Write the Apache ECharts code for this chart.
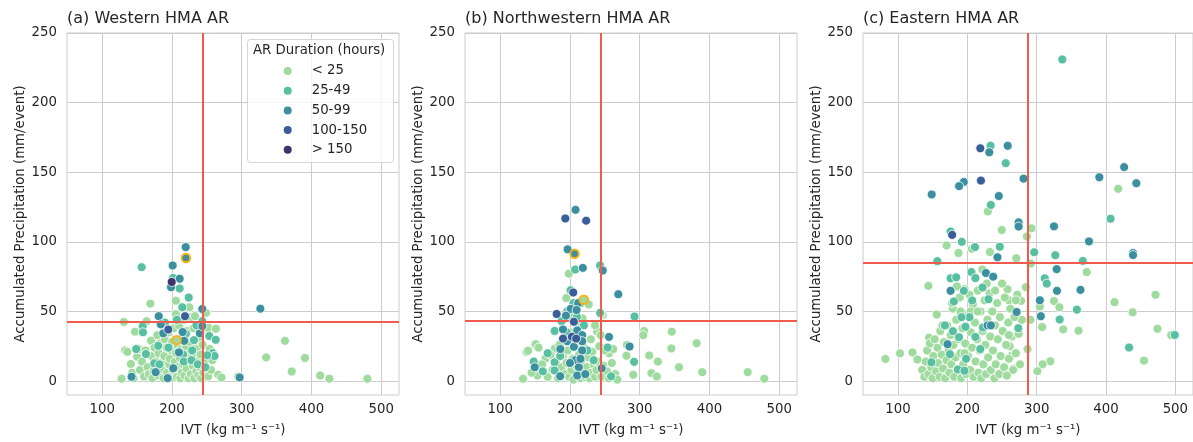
<!DOCTYPE html>
<html><head><meta charset="utf-8">
<script src="https://cdn.jsdelivr.net/npm/echarts@6/dist/echarts.min.js"></script>
<style>html,body{margin:0;padding:0;background:#fff;overflow:hidden;width:100%;height:100%}#c{position:fixed;left:0;top:0;width:100vw;height:100vh}</style>
</head><body><div id="c"></div>
<script>
// ---------- data ----------
const categories = ['< 25', '25-49', '50-99', '100-150', '> 150'];
const xTicks = [100, 200, 300, 400, 500];
const yTicks = [0, 50, 100, 150, 200, 250];
const panelTitles = ['(a) Western HMA AR', '(b) Northwestern HMA AR', '(c) Eastern HMA AR'];
const thresholdIVT = [243.5, 244, 287.8];
const thresholdPrecip = [42.5, 43, 84.7];

// (a) Western
const west_lt25 = [[127.8,1.7],[131,42.5],[133,22],[136,21],[141,12.3],[143,6],[145,2],[147,35.5],[150,17.5],[152,23],[154,8],[157,14],[160,3.3],[162,22],[163.7,43],[165,10],[167,5],[169,55.6],[170,29],[171,18],[172,2],[174,7.6],[175,24],[177,14],[179,33],[180,4],[181,20],[183,27],[185,9],[186.6,13.5],[188,2],[189,18],[190,30],[192,24],[193,6],[195,35],[196,12],[197,16],[198,2],[199,22],[200,28],[201,8],[203,38],[204,14],[205.7,57.7],[205.7,48],[206,20],[207,3],[208,26],[209,10],[210,40],[211,17],[212,2],[213,23],[214,6],[215,31],[216,12],[217,44],[218,4],[219,20],[220,25],[221,9],[222,36],[223,15],[224,2],[225,53],[226,28],[227,5],[228,46],[229,18],[230,11],[231,38],[232,2],[233,46.6],[234,24],[235,7],[236,14],[237.7,23],[238,4],[239,31],[240,10],[241,19],[242,2],[244,26],[245,6],[246,14],[247,38],[248.8,49],[250,3],[252,38.3],[252,3.5],[254,23],[256,8],[258,15],[263,37.6],[266.4,4.5],[271,2.5],[295,3.3],[335,17],[362,28.9],[371.7,6.9],[390.7,16.6],[412.5,4],[425.7,1.7],[480.2,1.7]];
const west_25_49 = [[156.5,81.8],[211,66.5],[201.6,74.1],[224,60],[214.8,53],[207,44],[243.5,43],[158,39.3],[158.4,35],[231.6,29.4],[253.5,32.4],[262.7,29.6],[180.3,25.3],[216,19],[229,22],[258.4,20.1],[261,18],[250.5,18.5],[162.7,19.4],[148.8,23],[174.6,12.8],[182,12],[217,14],[228,15],[237,12],[248,10],[195,24],[235,40],[190,42],[220,34]];
const west_50_99 = [[219.7,96.2],[201,83],[211,73.5],[198.6,67.4],[243.5,51.8],[181,46.6],[326.7,52],[184,40.7],[187.5,34.3],[215.3,35.2],[240,34.3],[243.5,39.5],[217.6,28.9],[210,20.6],[176.6,6.4],[201.9,9.2],[193.8,2.1],[142,3.1],[297,2.6]];
const west_100_150 = [[218.7,46.6],[194.7,37]];
const west_gt150 = [[199.6,71.2]];
const west_highlight = [[220,88.4,'50-99'],[206.7,29.4,'< 25']];

// (b) Northwestern
const nw_lt25 = [[198.4,77.1],[194.7,59.6],[227,55],[247,47.5],[238.9,35.6],[244,33],[306.4,36],[305,33],[346,35.5],[281.6,26],[281,18.2],[313.6,18.4],[326,14],[356.3,9.9],[381.6,27.2],[345.4,23.4],[389.6,6.4],[454.8,6.4],[478.6,1.7],[316.8,5.7],[324.5,3.3],[290.7,4.5],[266,1.5],[256,20],[149.5,26.5],[137.6,21],[140,21.8],[132.8,1.7],[153.3,4],[165,16.3],[178.4,23.4],[151,26.5],[145,6],[155,24],[160,12],[168,3],[172,19],[175,8],[180,14],[183,2],[185,26],[188,10],[190,18],[193,5],[195,13],[197,22],[199,3],[200,35],[202,8],[204,16],[205,1],[207,26],[209,11],[211,4],[213,19],[215,2],[216,14],[218,7],[220,24],[222,3],[224,10],[226,17],[228,2],[230,6],[232,21],[234,12],[236,3],[238,8],[240,14],[242,25],[245,3],[248,11],[250,22],[253,7],[256,2],[260,13],[262,23],[265,5],[268,1],[244,48],[236,40],[230,30],[214,40],[200,47],[204,30],[218,45]];
const nw_25_49 = [[207.5,80.1],[243.2,83],[200.9,65.3],[210,46],[188,43],[243.2,49],[292.6,46.4],[178,36],[195.6,34.9],[254,24.1],[292,13.8],[234,15],[148,14],[178,13.5],[161,7],[178,7.6],[259,3.4],[220,40],[203,28],[168,20],[215,56],[205,56],[196,50],[186,18],[225,22]];
const nw_50_99 = [[208,123],[196.6,94.6],[218.4,81.3],[247,79.4],[269.3,62.4],[211.7,56],[200.9,51.8],[209.5,51],[194.2,47],[190,37.1],[210.4,36.4],[217.5,33],[217.5,28.6],[196,28.6],[256,31.7],[285.5,24.8],[205.6,24.6],[217.5,22],[186.2,23],[207.5,15],[212.7,9.9],[245.5,9.2],[149.5,9.9],[210.4,4],[186,3.5],[222,5],[200,13],[215,16]];
const nw_100_150 = [[193.3,116.8],[223.2,115.2],[204.7,63.6],[180.9,48.2],[205.6,42.6],[190,30.5],[202.7,31.9],[208.9,30.5]];
const nw_gt150 = [];
const nw_highlight = [[206.6,91.5,'50-99'],[219.8,58.4,'< 25']];

// (c) Eastern
const east_lt25 = [[229.6,121.8],[417.6,138.1],[249.6,108.5],[292.6,109.7],[286,103.8],[170.1,97.4],[206.6,95],[187.3,92],[232.5,92.7],[270.7,88.2],[291.7,84.4],[372.2,78.3],[221.6,80.1],[284.5,67.4],[258,66],[471.4,62],[412.3,56.7],[325,57.5],[332.8,53],[304.6,53.5],[438.5,49.4],[291,44],[278.7,44],[277.5,57.6],[260,58],[307.9,38.8],[338.3,37.1],[360.4,36.2],[474.3,37.6],[494,33],[454.8,14.7],[286.8,23],[319.7,14.2],[308.6,12],[301.1,7.1],[267.7,9],[261,25],[263,18],[81.8,15.9],[102.9,19.9],[120.9,20.6],[128,15.5],[144.8,31.2],[143.8,68.4],[155.8,47.8],[135,8],[138,3],[140,14],[142,22],[144,5],[146,27],[148,10],[150,2],[151,18],[153,30],[155,7],[157,24],[158,13],[160,3],[161,36],[163,19],[165,9],[166,28],[168,2],[170,15],[171,40],[173,22],[174,6],[176,33],[177,12],[179,52],[180,26],[181,3],[183,17],[184,44],[186,9],[187,30],[189,60],[190,20],[191,2],[193,38],[194,12],[196,66],[197,27],[198,5],[200,48],[201,18],[203,62],[204,8],[205,35],[207,24],[208,55],[209,3],[211,42],[212,14],[214,30],[215,65],[216,6],[218,22],[219,50],[220,2],[222,36],[223,12],[225,58],[226,26],[227,5],[229,44],[230,17],[232,63],[233,32],[234,8],[236,50],[237,22],[239,2],[240,40],[241,12],[243,56],[244,30],[246,5],[247,46],[248,18],[250,70],[251,36],[253,10],[254,60],[256,26],[257,4],[259,42],[260,16],[262,52],[264,32],[266,8],[268,46],[270,20],[272,62],[274,34],[276,12],[196,20],[205,50],[185,68],[178,56],[164,40],[190,50],[215,50],[228,70],[240,65],[260,33],[270,58]];
const east_25_49 = [[337,231],[233.5,169],[255.4,156.5],[233.9,126.5],[406.6,116.6],[175.8,107.4],[192,100],[211,96.2],[246.8,96.5],[296.4,92.5],[326.9,90.4],[156.7,86.1],[366.5,86.3],[311.7,73.8],[314.6,70],[358,51.3],[333.2,44.2],[273.5,38],[499.2,33.1],[433.3,24.1],[175.8,73.8],[183.9,74.5],[205.9,78.3],[211.6,74],[194.9,64.8],[180.6,57.2],[207,57.9],[222,67.2],[230.5,58.8],[203,45.9],[191.6,45.9],[167.7,40],[179.2,35.8],[197.3,39],[222.5,38.5],[188,31.5],[211.6,31.7],[218.7,23],[174.9,19.3],[148.1,13.5],[198.2,16],[186.3,8.3],[195.8,7.4]];
const east_50_99 = [[231.6,164.3],[258.2,169],[194.9,143],[188.1,140],[148.6,134],[245.4,132.9],[281.1,145.4],[426.2,153.7],[390.4,146.4],[443.8,142.1],[325,111.1],[274,114],[274,111],[243.5,88.9],[375.5,100.3],[439,92],[439,90.5],[328.9,80.4],[226.8,77.6],[237.3,75],[329.3,64.8],[363.2,65.5],[304.6,58],[306,46.6],[271.1,49.6],[175.8,64.8],[229.2,40],[234,40],[171.5,26.5]];
const east_100_150 = [[218.7,167.2],[219.6,144],[178.1,105]];
const east_gt150 = [];

const panels = [
  [west_lt25, west_25_49, west_50_99, west_100_150, west_gt150],
  [nw_lt25, nw_25_49, nw_50_99, nw_100_150, nw_gt150],
  [east_lt25, east_25_49, east_50_99, east_100_150, east_gt150]
];
const highlights = [west_highlight, nw_highlight, []];

// ---------- styles ----------
const colors = ['#9fdb9e', '#58bfa1', '#3b8f9e', '#3a5f98', '#3b3569'];
const txt = '#262626';
const gridCol = '#cccccc';
const font = 'DejaVu Sans';
const lefts = [67, 465, 863];

const grids = [], xAxes = [], yAxes = [], titles = [], series = [];
for (let i = 0; i < 3; i++) {
  grids.push({left: lefts[i], top: 33, width: 332, height: 366, show: true, borderColor: gridCol, borderWidth: 1, backgroundColor: '#fff'});
  xAxes.push({
    gridIndex: i, type: 'value', min: 49.5, max: 525.5,
    name: 'IVT (kg m⁻¹ s⁻¹)', nameLocation: 'middle', nameGap: 29,
    nameTextStyle: {fontSize: 13.3, color: txt, fontFamily: font},
    axisLine: {show: false}, axisTick: {show: false, customValues: xTicks},
    axisLabel: {customValues: xTicks, fontSize: 13.3, color: txt, fontFamily: font, margin: 8},
    splitLine: {show: true, lineStyle: {color: gridCol, width: 1}}
  });
  yAxes.push({
    gridIndex: i, type: 'value', min: -10, max: 250,
    name: 'Accumulated Precipitation (mm/event)', nameLocation: 'middle', nameGap: 40,
    nameTextStyle: {fontSize: 13.3, color: txt, fontFamily: font},
    axisLine: {show: false}, axisTick: {show: false, customValues: yTicks},
    axisLabel: {customValues: yTicks, fontSize: 13.3, color: txt, fontFamily: font, margin: 10},
    splitLine: {show: true, lineStyle: {color: gridCol, width: 1}}
  });
  titles.push({text: panelTitles[i], left: lefts[i], top: 11, padding: 0,
    textStyle: {fontSize: 16, fontWeight: 'normal', color: txt, fontFamily: font}});
  // threshold lines
  series.push({
    type: 'scatter', xAxisIndex: i, yAxisIndex: i, data: [], silent: true, z: 1,
    markLine: {silent: true, symbol: 'none', animation: false, label: {show: false},
      lineStyle: {color: '#ef5b4c', width: 2, type: 'solid'},
      data: [{xAxis: thresholdIVT[i]}, {yAxis: thresholdPrecip[i]}]}
  });
  for (let k = 0; k < 5; k++) {
    series.push({
      type: 'scatter', name: categories[k], xAxisIndex: i, yAxisIndex: i,
      data: panels[i][k], symbolSize: 9, z: 2 + k,
      itemStyle: {color: colors[k], borderColor: '#ffffff', borderWidth: 0.8, opacity: 1}
    });
  }
  if (highlights[i].length) {
    series.push({
      type: 'scatter', xAxisIndex: i, yAxisIndex: i, z: 10,
      data: highlights[i].map(p => ({value: [p[0], p[1]], itemStyle: {color: colors[categories.indexOf(p[2])]}})),
      symbolSize: 8.5,
      itemStyle: {borderColor: '#fbb117', borderWidth: 2, opacity: 1}
    });
  }
}

const chart = echarts.init(document.getElementById('c'), null, {renderer: 'canvas'});
chart.setOption({
  animation: false,
  backgroundColor: '#ffffff',
  textStyle: {fontFamily: font},
  title: titles,
  grid: grids, xAxis: xAxes, yAxis: yAxes,
  legend: {
    data: categories, orient: 'vertical', left: 281.7, top: 64, padding: 0,
    itemWidth: 10, itemHeight: 14, itemGap: 5.7, selectedMode: false, icon: 'circle', z: 20,
    textStyle: {fontSize: 13.3, color: txt, fontFamily: font, lineHeight: 14, padding: [0, 0, 0, 14]}
  },
  graphic: [
    {type: 'rect', left: 247, top: 39, z: 15, shape: {width: 146, height: 123, r: 3},
      style: {fill: 'rgba(255,255,255,0.8)', stroke: '#d5d5d5', lineWidth: 1}},
    {type: 'text', left: 253, top: 44, z: 16,
      style: {text: 'AR Duration (hours)', fontSize: 13.3, fill: txt, fontFamily: font}}
  ],
  series: series
});
</script>
</body></html>
